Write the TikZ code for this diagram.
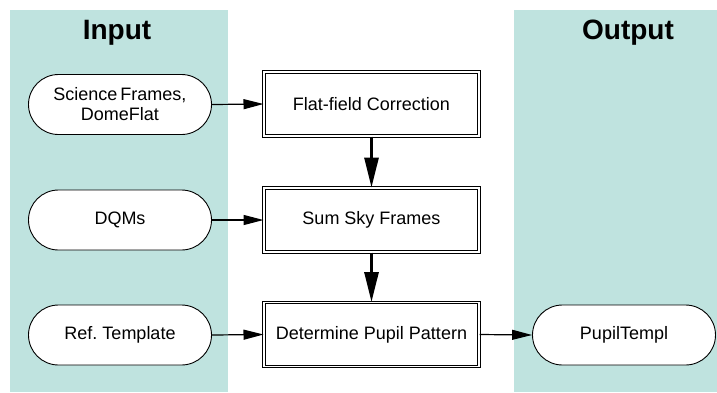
\documentclass[tikz,border=0pt]{standalone}
\usepackage{fontspec}
\setmainfont{Liberation Sans}
\usetikzlibrary{arrows.meta,shapes.misc}
\definecolor{panel}{RGB}{191,227,223}
\tikzset{
  term/.style={draw=black, fill=white, line width=0.9pt, rounded rectangle, inner sep=0pt,
    minimum width=183pt, minimum height=60pt, align=center, font=\fontsize{18}{20}\selectfont},
  procbox/.style={draw=black, fill=white, double=white, double distance=1.8pt, line width=1pt,
    rectangle, inner sep=0pt, minimum width=215pt, minimum height=64pt, align=center,
    font=\fontsize{18}{20}\selectfont},
  thinarrow/.style={line width=1.2pt, -{Triangle[length=20pt,width=10pt]}},
  thickarrow/.style={line width=3pt, -{Triangle[length=30pt,width=14pt]}},
  title/.style={font=\bfseries\fontsize{28}{30}\selectfont}
}
\begin{document}
\begin{tikzpicture}[x=1pt,y=-1pt]
\useasboundingbox (0,0) rectangle (717,392);
\fill[panel] (10,10) rectangle (228,392);
\fill[panel] (514,10) rectangle (717,392);
\node[title] (tin) at (117,33) {Input};
\node[title] (tout) at (628,33) {Output};
\node[term] (sci) at (120,104.5) {Science\,Frames,\\DomeFlat};
\node[term] (dqm) at (120,220) {DQMs};
\node[term] (ref) at (120,335) {Ref.\ Template};
\node[term] (pup) at (624,335) {PupilTempl};
\node[procbox] (ff) at (371.5,104) {Flat-field Correction};
\node[procbox] (sum) at (371.5,220) {Sum Sky Frames};
\node[procbox] (det) at (371.5,334.5) {Determine Pupil Pattern};
\draw[thinarrow] (sci.east) -- (ff.west);
\draw[thinarrow] (dqm.east) -- (sum.west);
\draw[thinarrow] (ref.east) -- (det.west);
\draw[thinarrow] (det.east) -- (pup.west);
\draw[thickarrow] (ff.south) -- (sum.north);
\draw[thickarrow] (sum.south) -- (det.north);
\end{tikzpicture}
\end{document}
